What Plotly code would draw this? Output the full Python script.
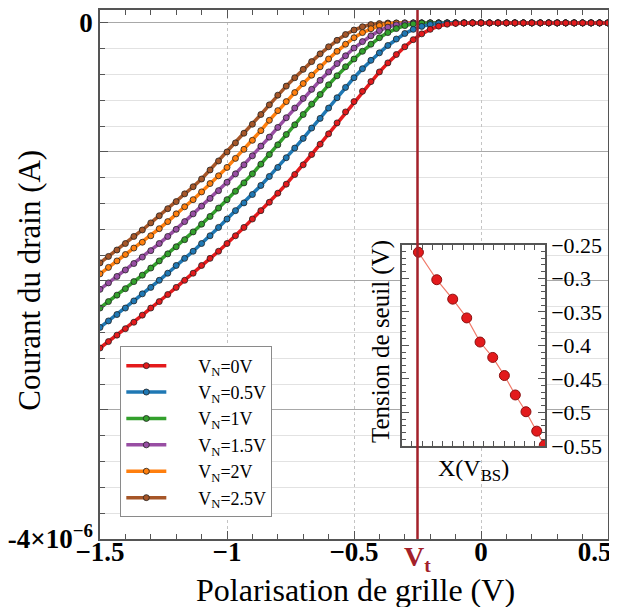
import plotly.graph_objects as go

# ---------------- data (currents in µA) ----------------
vg = [-1.5, -1.4667, -1.4333, -1.4, -1.3667, -1.3333, -1.3, -1.2667, -1.2333, -1.2,
      -1.1667, -1.1333, -1.1, -1.0667, -1.0333, -1.0, -0.9667, -0.9333, -0.9, -0.8667,
      -0.8333, -0.8, -0.7667, -0.7333, -0.7, -0.6667, -0.6333, -0.6, -0.5667, -0.5333,
      -0.5, -0.4667, -0.4333, -0.4, -0.3667, -0.3333, -0.3, -0.2667, -0.2333, -0.2,
      -0.1667, -0.1333, -0.1, -0.0667, -0.0333, 0.0, 0.0333, 0.0667, 0.1, 0.1333,
      0.1667, 0.2, 0.2333, 0.2667, 0.3, 0.3333, 0.3667, 0.4, 0.4333, 0.4667, 0.5]

id_vn0 = [-2.52, -2.47, -2.42, -2.37, -2.32, -2.265, -2.21, -2.16, -2.105, -2.05,
          -1.995, -1.94, -1.88, -1.825, -1.77, -1.71, -1.65, -1.585, -1.52, -1.455,
          -1.39, -1.32, -1.25, -1.175, -1.10, -1.02, -0.94, -0.86, -0.775, -0.69,
          -0.61, -0.53, -0.455, -0.38, -0.31, -0.245, -0.185, -0.13, -0.085, -0.05,
          -0.025, -0.01, -0.004, -0.001, 0, 0, 0, 0, 0, 0,
          0, 0, 0, 0, 0, 0, 0, 0, 0, 0, 0]
id_vn05 = [-2.36, -2.31, -2.26, -2.21, -2.155, -2.10, -2.05, -1.995, -1.94, -1.88,
           -1.825, -1.77, -1.71, -1.65, -1.585, -1.52, -1.455, -1.395, -1.33, -1.26,
           -1.19, -1.12, -1.045, -0.97, -0.895, -0.815, -0.74, -0.66, -0.58, -0.50,
           -0.425, -0.355, -0.29, -0.232, -0.175, -0.125, -0.082, -0.05, -0.027, -0.012,
           -0.004, -0.001, 0, 0, 0, 0, 0, 0, 0, 0,
           0, 0, 0, 0, 0, 0, 0, 0, 0, 0, 0]
id_vn1 = [-2.21, -2.16, -2.11, -2.06, -2.005, -1.955, -1.90, -1.845, -1.79, -1.735,
          -1.68, -1.62, -1.56, -1.50, -1.435, -1.37, -1.305, -1.24, -1.17, -1.095,
          -1.02, -0.945, -0.865, -0.79, -0.71, -0.63, -0.555, -0.48, -0.41, -0.34,
          -0.28, -0.22, -0.165, -0.115, -0.075, -0.044, -0.021, -0.008, -0.002, 0,
          0, 0, 0, 0, 0, 0, 0, 0, 0, 0,
          0, 0, 0, 0, 0, 0, 0, 0, 0, 0, 0]
id_vn15 = [-2.065, -2.015, -1.965, -1.915, -1.865, -1.815, -1.765, -1.71, -1.655, -1.60,
           -1.54, -1.48, -1.42, -1.36, -1.30, -1.235, -1.17, -1.10, -1.03, -0.955,
           -0.885, -0.81, -0.735, -0.66, -0.585, -0.515, -0.445, -0.38, -0.315, -0.255,
           -0.195, -0.145, -0.10, -0.06, -0.033, -0.015, -0.005, -0.001, 0, 0,
           0, 0, 0, 0, 0, 0, 0, 0, 0, 0,
           0, 0, 0, 0, 0, 0, 0, 0, 0, 0, 0]
id_vn2 = [-1.945, -1.895, -1.845, -1.795, -1.745, -1.70, -1.65, -1.595, -1.54, -1.48,
          -1.425, -1.37, -1.31, -1.245, -1.185, -1.12, -1.05, -0.98, -0.91, -0.835,
          -0.755, -0.68, -0.61, -0.54, -0.47, -0.405, -0.34, -0.28, -0.22, -0.165,
          -0.115, -0.075, -0.045, -0.021, -0.008, -0.002, 0, 0, 0, 0,
          0, 0, 0, 0, 0, 0, 0, 0, 0, 0,
          0, 0, 0, 0, 0, 0, 0, 0, 0, 0, 0]
id_vn25 = [-1.86, -1.81, -1.76, -1.71, -1.655, -1.605, -1.55, -1.495, -1.44, -1.385,
           -1.325, -1.27, -1.21, -1.14, -1.07, -1.00, -0.93, -0.855, -0.785, -0.71,
           -0.635, -0.56, -0.49, -0.425, -0.36, -0.30, -0.24, -0.185, -0.135, -0.09,
           -0.055, -0.03, -0.013, -0.005, -0.001, 0, 0, 0, 0, 0,
           0, 0, 0, 0, 0, 0, 0, 0, 0, 0,
           0, 0, 0, 0, 0, 0, 0, 0, 0, 0, 0]

series_names = ["V<sub>N</sub>=0V", "V<sub>N</sub>=0.5V", "V<sub>N</sub>=1V",
                "V<sub>N</sub>=1.5V", "V<sub>N</sub>=2V", "V<sub>N</sub>=2.5V"]
series_values = [id_vn0, id_vn05, id_vn1, id_vn15, id_vn2, id_vn25]
series_colors = ["#e41a1c", "#1f78b4", "#33a02c", "#984ea3", "#ff7f0e", "#a65628"]

VT = -0.25

# inset: threshold voltage vs X(V_BS)
inset_x = [1.63, 3.42, 4.98, 6.35, 7.65, 8.89, 10.03, 11.10, 12.14, 13.19, 13.93]
inset_vth = [-0.261, -0.302, -0.331, -0.359, -0.395, -0.418, -0.445, -0.474, -0.499, -0.528, -0.549]

x_ticks = [-1.5, -1, -0.5, 0, 0.5]
x_ticktext = ["−1.5", "−1", "−0.5", "0", "0.5\u2003"]
inset_yticks = [-0.25, -0.3, -0.35, -0.4, -0.45, -0.5, -0.55]
inset_yticktext = ["−0.25", "−0.3", "−0.35", "−0.4", "−0.45", "−0.5", "−0.55"]

for s in series_values:
    assert len(s) == len(vg), len(s)

SERIF = "Liberation Serif"
FRAME = "#555555"
LEGEND_PAD = "\u2003\u2002"

fig = go.Figure()

# draw VN=2.5 first so that VN=0 (red) is on top
for name, vals, col in reversed(list(zip(series_names, series_values, series_colors))):
    fig.add_trace(go.Scatter(
        x=vg, y=[v * 1e-6 for v in vals], mode="lines+markers", name=LEGEND_PAD + name,
        line=dict(color=col, width=3.5),
        marker=dict(size=6, color=col, line=dict(color="#222222", width=0.8)),
        xaxis="x", yaxis="y"))

fig.add_trace(go.Scatter(
    x=inset_x, y=inset_vth, mode="lines+markers", showlegend=False,
    line=dict(color="#f07a6a", width=1.2),
    marker=dict(size=10, color="#e31a1c", line=dict(color="#8b1010", width=1)),
    xaxis="x2", yaxis="y2"))

IN_X = [0.594, 0.876]
IN_Y = [0.176, 0.556]

fig.update_layout(
    width=609, height=599,
    margin=dict(l=92, r=9, t=2, b=68, autoexpand=False),
    paper_bgcolor="white", plot_bgcolor="white",
    font=dict(family=SERIF, color="black"),
    showlegend=True,
    legend=dict(x=0.04, y=0.364, xanchor="left", yanchor="top",
                traceorder="reversed", bgcolor="white",
                bordercolor="#8a8a8a", borderwidth=1,
                font=dict(family=SERIF, size=18), itemwidth=40,
                tracegroupgap=0),
    xaxis=dict(domain=[0, 1], range=[-1.5, 0.5], tickmode="array",
               tickvals=x_ticks, ticktext=x_ticktext, automargin=False,
               tickfont=dict(family=SERIF, size=27, weight="bold"),
               ticklabelstandoff=-12, ticklabeloverflow="allow",
               ticks="inside", ticklen=8, tickcolor=FRAME,
               showline=True, linecolor=FRAME, linewidth=1.5, mirror="ticks",
               showgrid=True, gridcolor="#c4c4c4", griddash="dot", gridwidth=1,
               zeroline=False,
               minor=dict(dtick=0.1, tick0=0, ticks="inside", ticklen=5,
                          tickcolor=FRAME, showgrid=False)),
    yaxis=dict(domain=[0, 1], range=[-4.0e-6, 0.1e-6], tickmode="array",
               tickvals=[-4e-6, -3e-6, -2e-6, -1e-6, 0], automargin=False,
               ticktext=["-4×10<sup>−6</sup>", "", "", "", "0"],
               tickfont=dict(family=SERIF, size=27, weight="bold"),
               ticklabeloverflow="allow",
               ticks="inside", ticklen=8, tickcolor=FRAME,
               showline=True, linecolor=FRAME, linewidth=1.5, mirror=True,
               showgrid=True, gridcolor="#a8a8a8", gridwidth=1.2, zeroline=False,
               minor=dict(dtick=0.2e-6, tick0=0, ticks="inside", ticklen=5,
                          tickcolor=FRAME, showgrid=True, gridcolor="#e2e2e2",
                          gridwidth=1)),
    xaxis2=dict(domain=IN_X, range=[0, 14], anchor="y2", showticklabels=False,
                dtick=1, ticks="inside", ticklen=5, tickcolor=FRAME, automargin=False,
                showline=True, linecolor=FRAME, linewidth=1.5, mirror="ticks",
                showgrid=False, zeroline=False),
    yaxis2=dict(domain=IN_Y, range=[-0.55, -0.25], anchor="x2", side="right",
                tickmode="array", tickvals=inset_yticks, ticktext=inset_yticktext,
                tickfont=dict(family=SERIF, size=22), automargin=False,
                ticks="inside", ticklen=7, tickcolor=FRAME,
                showline=True, linecolor=FRAME, linewidth=1.5, mirror="ticks",
                showgrid=False, zeroline=False,
                minor=dict(dtick=0.01, tick0=0, ticks="inside", ticklen=4,
                           tickcolor=FRAME, showgrid=False)),
)

# inset yellow background, under the main grid
fig.add_shape(type="rect", xref="paper", yref="paper",
              x0=IN_X[0], x1=IN_X[1], y0=IN_Y[0], y1=IN_Y[1],
              fillcolor="#f8f1b2", line=dict(width=0), layer="below")

# threshold voltage line
fig.add_shape(type="line", xref="x", yref="paper", x0=VT, x1=VT, y0=0, y1=1,
              line=dict(color="#a3212a", width=2.5), layer="above")

fig.add_annotation(x=VT, xref="x", y=0, yref="paper", xanchor="center", yanchor="top",
                   yshift=0, text="<b>V<sub>t</sub></b>", showarrow=False,
                   font=dict(family=SERIF, size=28, color="#a3212a"))

# axis titles
fig.add_annotation(x=-0.138, xref="paper", y=0.49, yref="paper",
                   xanchor="center", yanchor="middle",
                   text="Courant du drain (A)", textangle=-90, showarrow=False,
                   font=dict(family=SERIF, size=31))
fig.add_annotation(x=0.502, xref="paper", y=-0.096, yref="paper",
                   xanchor="center", yanchor="middle",
                   text="Polarisation de grille (V)", showarrow=False,
                   font=dict(family=SERIF, size=32))
# inset titles
fig.add_annotation(x=(381 - 100) / 508, xref="paper", y=(539 - 342) / 529, yref="paper",
                   xanchor="center", yanchor="middle",
                   text="Tension de seuil (V)", textangle=-90, showarrow=False,
                   font=dict(family=SERIF, size=25))
fig.add_annotation(x=sum(IN_X) / 2, xref="paper", y=(539 - 470) / 529, yref="paper",
                   xanchor="center", yanchor="middle",
                   text="X(V<sub>BS</sub>)", showarrow=False,
                   font=dict(family=SERIF, size=24))

fig.write_html("out.html")
